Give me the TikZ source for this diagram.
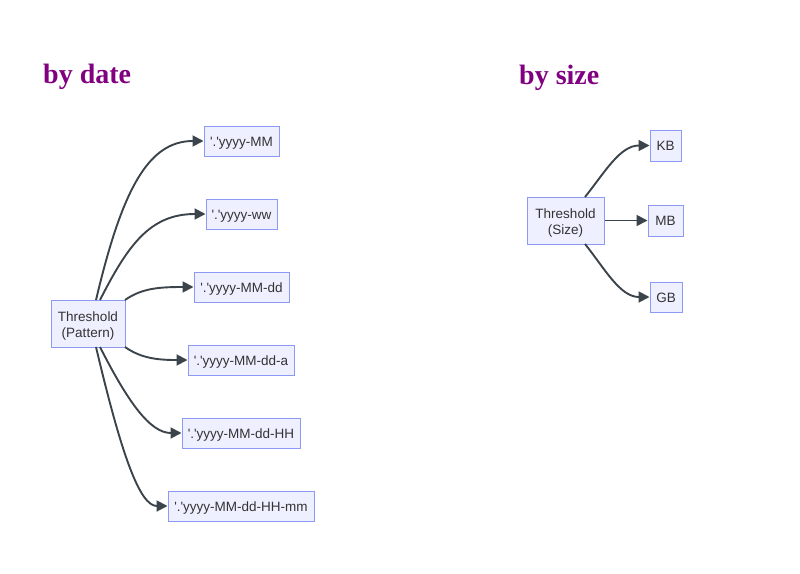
\documentclass[tikz,border=0pt]{standalone}
\usepackage{fontspec}
\setmainfont{Liberation Serif}
\newfontfamily\nodefont{Liberation Sans}
\usetikzlibrary{arrows.meta}
\definecolor{boxfill}{HTML}{EEF0FF}
\definecolor{boxline}{HTML}{8C9AF5}
\definecolor{edgecol}{HTML}{3B434B}
\definecolor{titlecol}{HTML}{800080}
\definecolor{textcol}{HTML}{333333}
\tikzset{
  box/.style={draw=boxline, fill=boxfill, line width=1pt, inner sep=0pt,
    font=\nodefont\fontsize{13.5}{16}\selectfont, text=textcol, align=center},
  one/.style={box, text height=11pt, text depth=1pt, minimum height=30pt},
  two/.style={box, text height=27.5pt, text depth=0pt, minimum height=47pt},
  edge/.style={draw=edgecol, line width=1.9pt, -{Triangle[length=11pt,width=11pt]}},
  ttl/.style={font=\bfseries\fontsize{28}{32}\selectfont, text=titlecol, inner sep=0pt, anchor=base west}
}
\begin{document}
\begin{tikzpicture}[x=1pt,y=-1pt]
\useasboundingbox (0,0) rectangle (800,573);
\node[ttl] (t1) at (43,83) {by date};
\node[ttl] (t2) at (519,84.5) {by size};

\node[two, minimum width=74pt] (p) at (88,323.5) {Threshold\\(Pattern)};
\node[one, minimum width=75pt] (a) at (241.5,141) {'.'yyyy-MM};
\node[one, minimum width=71pt] (b) at (241.5,214) {'.'yyyy-ww};
\node[one, minimum width=95pt] (c) at (241.5,287) {'.'yyyy-MM-dd};
\node[one, minimum width=106pt] (d) at (241,360) {'.'yyyy-MM-dd-a};
\node[one, minimum width=118pt] (e) at (241,433) {'.'yyyy-MM-dd-HH};
\node[one, minimum width=146pt] (f) at (241,506) {'.'yyyy-MM-dd-HH-mm};

\node[two, minimum width=77pt] (s) at (565.5,220.5) {Threshold\\(Size)};
\node[one, minimum width=31pt, minimum height=31pt] (kb) at (665.5,145.5) {KB};
\node[one, minimum width=35pt, minimum height=31pt] (mb) at (665.5,220.5) {MB};
\node[one, minimum width=32pt] (gb) at (666,297) {GB};

\coordinate (pa) at (96,300);
\coordinate (pb) at (100,300);
\coordinate (pc) at (125,300);
\coordinate (pd) at (125,347);
\coordinate (pe) at (100,347);
\coordinate (pf) at (96,347);
\draw[edge] (pa) .. controls (122,190) and (148,141) .. (a.west);
\draw[edge] (pb) .. controls (128,245) and (150,214) .. (b.west);
\draw[edge] (pc) .. controls (142,288) and (160,287) .. (c.west);
\draw[edge] (pd) .. controls (142,359) and (160,360) .. (d.west);
\draw[edge] (pe) .. controls (128,402) and (150,433) .. (e.west);
\draw[edge] (pf) .. controls (122,457) and (140,506) .. (f.west);

\coordinate (sk) at (585,197);
\coordinate (sg) at (585,244);
\draw[edge] (sk) .. controls (605,172) and (620,145.5) .. (kb.west);
\draw[edge] (s.east) -- (mb.west);
\draw[edge] (sg) .. controls (605,269) and (620,297) .. (gb.west);
\end{tikzpicture}
\end{document}
